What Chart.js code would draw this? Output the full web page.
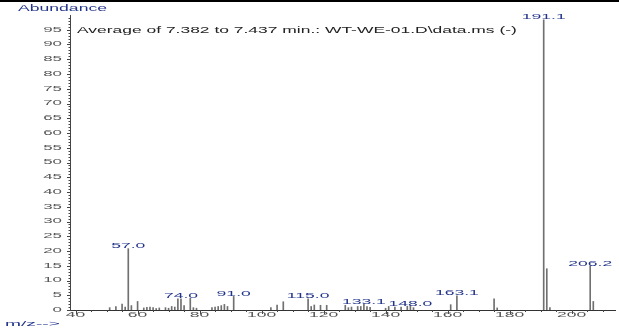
<!DOCTYPE html>
<html>
<head>
<meta charset="utf-8">
<script src="https://cdn.jsdelivr.net/npm/chart.js@4"></script>
<style>
  html, body { margin: 0; padding: 0; background: #fff; }
  canvas { display: block; }
</style>
</head>
<body>
<canvas id="spectrum" width="619" height="331"></canvas>
<script>
"use strict";

// mass spectrum
const MZ = [51, 53, 55, 56, 57, 58, 60, 62, 63, 64, 65, 66, 67, 69, 70, 71, 72, 73, 74, 75, 77, 78, 79,
            84, 85, 86, 87, 88, 89, 91, 103, 105, 107, 115, 116, 117, 119, 121, 127, 128, 129, 131, 132,
            133, 134, 135, 140, 141, 143, 145, 147, 148, 149, 161, 163, 175, 176, 191, 192, 193, 206, 207];
const ABUNDANCE = [0.8, 1.2, 2.0, 1.0, 20.8, 1.5, 2.9, 0.7, 0.9, 1.0, 0.8, 0.5, 0.7, 0.8, 0.6, 1.2, 1.0, 3.8, 3.8, 1.5, 4.0, 0.8, 0.6,
                   0.8, 1.0, 1.2, 1.5, 1.9, 1.2, 4.6, 0.8, 1.7, 2.8, 3.8, 1.2, 1.7, 1.6, 1.6, 1.6, 0.8, 1.0, 1.2, 1.2,
                   2.0, 1.2, 0.9, 0.6, 1.2, 1.0, 1.0, 1.3, 1.3, 0.8, 1.8, 4.8, 3.8, 0.7, 98.4, 14.0, 0.8, 14.9, 2.9];

// annotated peaks
const LABEL_MZ = [57, 74, 91, 115, 133, 148, 163, 191, 206];
const LABEL_TEXT = ['57.0', '74.0', '91.0', '115.0', '133.1', '148.0', '163.1', '191.1', '206.2'];

const X_TICKS = [40, 60, 80, 100, 120, 140, 160, 180, 200];
const Y_TICKS = [0, 5, 10, 15, 20, 25, 30, 35, 40, 45, 50, 55, 60, 65, 70, 75, 80, 85, 90, 95];

const Y_TITLE = 'Abundance';
const X_TITLE = 'm/z-->';
const HEADER = 'Average of 7.382 to 7.437 min.: WT-WE-01.D\\data.ms (-)';

const FONT = '"Liberation Sans", Arial, sans-serif';
const NAVY = '#22348a';

function wideText(ctx, text, x, y, size, sx, align, baseline, color) {
    ctx.save();
    ctx.font = size + 'px ' + FONT;
    ctx.fillStyle = color;
    ctx.textAlign = align;
    ctx.textBaseline = baseline;
    ctx.translate(x, y);
    ctx.scale(sx, 1);
    ctx.fillText(text, 0, 0);
    ctx.restore();
}

const decorations = {
    id: 'decorations',
    afterDraw(chart) {
        const ctx = chart.ctx;
        const xs = chart.scales.x;
        const ys = chart.scales.y;
        const base = ys.getPixelForValue(0);
        const left = chart.chartArea.left;

        ctx.save();
        ctx.strokeStyle = '#444';
        ctx.lineWidth = 1;
        ctx.beginPath();
        // y ticks: minor every 1, major every 5
        for (let v = 0; v <= 99; v++) {
            const py = Math.round(ys.getPixelForValue(v)) + 0.5;
            const len = v % 5 === 0 ? 3 : 1.5;
            ctx.moveTo(left - len, py);
            ctx.lineTo(left, py);
        }
        // x ticks: minor every 5, major every 20
        for (let v = 40; v <= 210; v += 5) {
            const px = Math.round(xs.getPixelForValue(v)) + 0.5;
            const len = v % 20 === 0 ? 4 : 2;
            ctx.moveTo(px, base);
            ctx.lineTo(px, base + len);
        }
        ctx.stroke();
        ctx.restore();

        Y_TICKS.forEach(v => {
            wideText(ctx, String(v), 62, ys.getPixelForValue(v), 6.5, 2.6, 'right', 'middle', '#555');
        });
        X_TICKS.forEach(v => {
            wideText(ctx, String(v), xs.getPixelForValue(v), 315, 6.5, 2.7, 'center', 'middle', '#555');
        });

        LABEL_MZ.forEach((m, i) => {
            const k = MZ.indexOf(m);
            const top = ys.getPixelForValue(ABUNDANCE[k]);
            wideText(ctx, LABEL_TEXT[i], xs.getPixelForValue(m), top - 0.5, 6.5, 2.7, 'center', 'alphabetic', NAVY);
        });

        wideText(ctx, Y_TITLE, 18, 10.5, 8.4, 2.1, 'left', 'alphabetic', NAVY);
        wideText(ctx, X_TITLE, 5, 326, 8, 2.4, 'left', 'alphabetic', NAVY);
        wideText(ctx, HEADER, 77, 32.5, 8.6, 2.03, 'left', 'alphabetic', '#222');

        ctx.fillStyle = '#000';
        ctx.fillRect(0, 0, chart.width, 2);
    }
};

const ctx = document.getElementById('spectrum').getContext('2d');
const spectrum = new Chart(ctx, {
    type: 'bar',
    data: {
        datasets: [{
            data: MZ.map((m, i) => ({ x: m, y: ABUNDANCE[i] })),
            backgroundColor: '#707070',
            borderWidth: 0,
            barThickness: 1
        }]
    },
    options: {
        responsive: false,
        animation: false,
        layout: {
            padding: { top: 15, right: 4, left: 0, bottom: 0 }
        },
        scales: {
            x: {
                type: 'linear',
                min: 38.2,
                max: 214,
                offset: false,
                grid: { display: false },
                border: { display: true, color: '#333', width: 1 },
                ticks: { display: false },
                afterFit(scale) { scale.height = 21; }
            },
            y: {
                min: 0,
                max: 100,
                grid: { display: false },
                border: { display: true, color: '#444', width: 1 },
                ticks: { display: false },
                afterFit(scale) { scale.width = 70; }
            }
        },
        plugins: {
            legend: { display: false },
            tooltip: { enabled: false }
        }
    },
    plugins: [decorations]
});
</script>
</body>
</html>
